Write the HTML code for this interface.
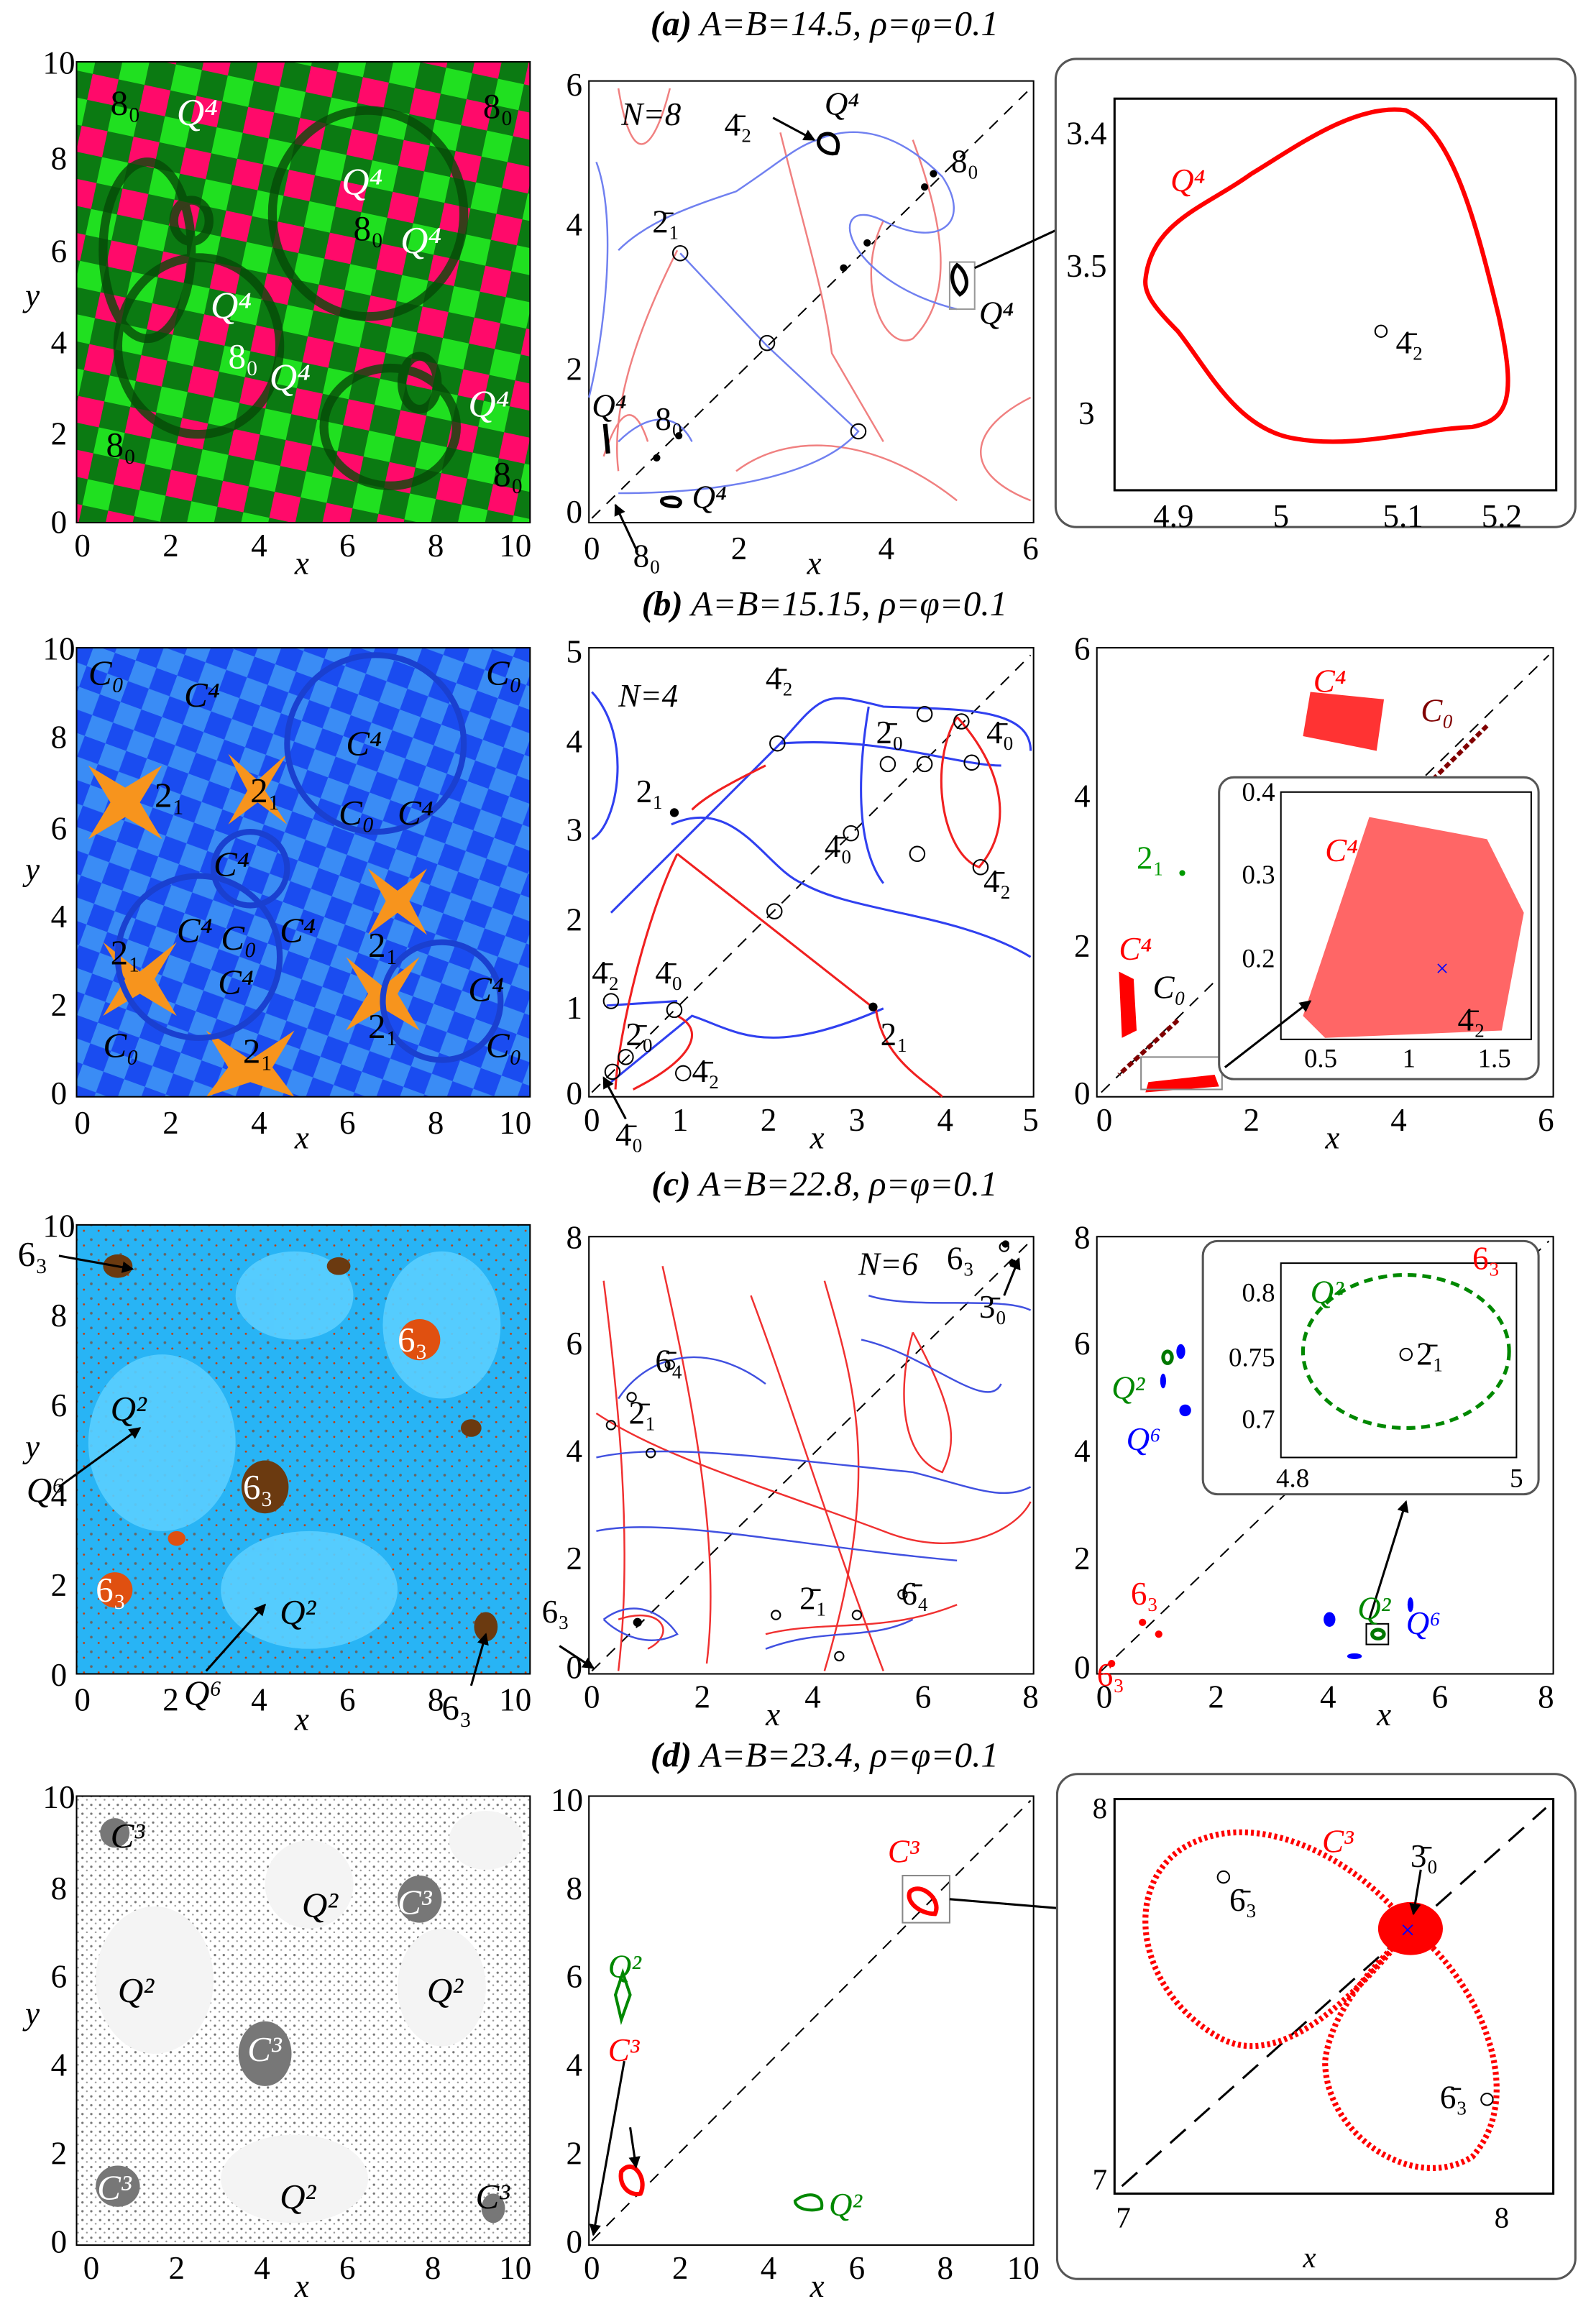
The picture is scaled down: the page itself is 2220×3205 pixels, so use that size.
<!DOCTYPE html>
<html><head><meta charset="utf-8"><style>
html,body{margin:0;padding:0;background:#fff}
svg{display:block}
text{font-family:"Liberation Serif",serif}
</style></head><body>
<svg width="2220" height="3205" viewBox="0 0 1084 1565" xmlns="http://www.w3.org/2000/svg">
<defs>
<pattern id="chkA" width="36" height="36" patternUnits="userSpaceOnUse" patternTransform="rotate(12)">
<rect width="36" height="36" fill="#0b7a12"/><rect width="18" height="18" fill="#ff0a6a"/><rect x="18" y="18" width="18" height="18" fill="#20e020"/>
</pattern>
<pattern id="chkB" width="30" height="30" patternUnits="userSpaceOnUse" patternTransform="rotate(20)">
<rect width="30" height="30" fill="#1a4cf0"/><rect width="15" height="15" fill="#3a8cf5"/><rect x="15" y="15" width="15" height="15" fill="#3a8cf5"/>
</pattern>
<pattern id="dotC" width="10" height="10" patternUnits="userSpaceOnUse">
<rect width="10" height="10" fill="#28b4f5"/><circle cx="2" cy="2" r="0.9" fill="#666"/><circle cx="7" cy="6" r="0.7" fill="#c04010"/>
</pattern>
<pattern id="dotD" width="6" height="6" patternUnits="userSpaceOnUse">
<rect width="6" height="6" fill="#fff"/><circle cx="2" cy="2" r="0.8" fill="#777"/><circle cx="5" cy="4.5" r="0.6" fill="#999"/>
</pattern>
<marker id="ar" markerWidth="8" markerHeight="8" refX="7" refY="4" orient="auto" markerUnits="userSpaceOnUse"><path d="M0,0L8,4L0,8z" fill="#000"/></marker>
</defs>

<!-- titles -->
<g font-size="24" font-style="italic" text-anchor="middle">
<text x="560" y="24"><tspan font-weight="bold">(a)</tspan>  A=B=14.5, ρ=φ=0.1</text>
<text x="560" y="418"><tspan font-weight="bold">(b)</tspan>  A=B=15.15, ρ=φ=0.1</text>
<text x="560" y="812"><tspan font-weight="bold">(c)</tspan>  A=B=22.8, ρ=φ=0.1</text>
<text x="560" y="1200"><tspan font-weight="bold">(d)</tspan>  A=B=23.4, ρ=φ=0.1</text>
</g>

<!-- ===== Row a ===== -->
<rect x="52" y="42" width="308" height="313" fill="url(#chkA)"/>
<g fill="none" stroke="#064a08" stroke-width="6" opacity="0.8">
<ellipse cx="100" cy="170" rx="30" ry="60"/><ellipse cx="250" cy="145" rx="65" ry="70"/>
<ellipse cx="135" cy="235" rx="55" ry="60"/><ellipse cx="265" cy="290" rx="45" ry="40"/>
<ellipse cx="130" cy="150" rx="12" ry="14"/><ellipse cx="285" cy="260" rx="12" ry="18"/>
</g>
<rect x="52" y="42" width="308" height="313" fill="none" stroke="#000"/>
<g font-size="26" font-style="italic" fill="#fff"><text x="120" y="85">Q⁴</text><text x="232" y="132">Q⁴</text><text x="272" y="172">Q⁴</text><text x="143" y="216">Q⁴</text><text x="183" y="265">Q⁴</text><text x="318" y="283">Q⁴</text></g>
<g font-size="24"><text x="75" y="78">8₀</text><text x="328" y="80">8₀</text><text x="240" y="163">8₀</text><text x="155" y="250" fill="#fff">8₀</text><text x="72" y="310">8₀</text><text x="335" y="330">8₀</text></g>

<!-- middle a -->
<rect x="400" y="55" width="302" height="300" fill="none" stroke="#000"/>
<line x1="402" y1="352" x2="700" y2="60" stroke="#000" stroke-dasharray="8,6"/>
<g fill="none" stroke="#f08080" stroke-width="1.2">
<path d="M420,60 C430,120 445,100 455,60"/><path d="M530,90 C550,170 560,200 565,240 L600,300"/>
<path d="M620,95 C640,150 650,200 620,230 C600,240 580,190 600,150"/>
<path d="M700,270 C660,290 650,320 700,340"/><path d="M500,320 C540,290 600,300 650,340"/>
<path d="M410,310 C420,280 430,270 440,300"/><path d="M460,170 C430,230 415,280 420,320"/>
</g>
<g fill="none" stroke="#7080f0" stroke-width="1.2">
<path d="M405,110 C420,150 410,230 400,270"/><path d="M420,170 C440,150 470,140 500,130 C530,110 540,100 555,95 C590,80 620,100 640,120 C660,150 640,170 600,150 C560,130 570,190 650,210"/>
<path d="M462,172 L521,235 L583,293 C560,320 500,335 420,335"/><path d="M420,300 C440,280 460,280 470,300"/>
</g>
<g fill="none" stroke="#000"><circle cx="462" cy="172" r="5"/><circle cx="521" cy="233" r="5"/><circle cx="583" cy="293" r="5"/>
<path d="M558,92 C565,88 572,95 568,104 C560,106 552,98 558,92z" stroke-width="2.5"/><path d="M650,180 C656,184 660,195 652,200 C646,194 645,185 650,180z" stroke-width="2.5"/>
<path d="M411,288 L413,308" stroke-width="3"/><path d="M450,339 C458,336 466,340 460,344 C452,344 448,342 450,339z" stroke-width="2.5"/>
<rect x="645" y="178" width="17" height="32" stroke="#999"/></g>
<g fill="#000"><circle cx="634" cy="118" r="2.5"/><circle cx="628" cy="127" r="2.5"/><circle cx="589" cy="165" r="2.5"/><circle cx="573" cy="182" r="2.5"/><circle cx="461" cy="296" r="2.5"/><circle cx="446" cy="311" r="2.5"/></g>
<line x1="525" y1="80" x2="553" y2="95" stroke="#000" stroke-width="1.5" marker-end="url(#ar)"/>
<line x1="433" y1="375" x2="418" y2="343" stroke="#000" stroke-width="1.5" marker-end="url(#ar)"/>
<line x1="662" y1="182" x2="746" y2="143" stroke="#000" stroke-width="1.5" marker-end="url(#ar)"/>
<g font-size="22" font-style="italic"><text x="422" y="85">N=8</text><text x="560" y="78">Q⁴</text><text x="665" y="220">Q⁴</text><text x="402" y="283">Q⁴</text><text x="470" y="345">Q⁴</text></g>
<g font-size="22"><text x="492" y="92">4̄₂</text><text x="443" y="158">2̄₁</text><text x="646" y="117">8₀</text><text x="445" y="292">8₀</text><text x="430" y="385">8₀</text></g>

<!-- right a -->
<rect x="717" y="40" width="353" height="318" rx="14" fill="#fff" stroke="#555" stroke-width="1.5"/>
<rect x="757" y="67" width="300" height="266" fill="none" stroke="#000" stroke-width="1.5"/>
<path d="M778,190 C782,150 820,140 850,118 C880,100 920,70 955,75 C985,90 1000,140 1018,215 C1030,270 1025,285 1000,290 C960,292 920,305 880,298 C840,292 820,250 800,225 C785,210 777,200 778,190z" fill="none" stroke="#f00" stroke-width="3"/>
<circle cx="938" cy="225" r="4" fill="none" stroke="#000"/>
<text x="795" y="130" font-size="22" font-style="italic" fill="#f00">Q⁴</text>
<text x="948" y="240" font-size="22">4̄₂</text>

<!-- ===== Row b ===== -->
<rect x="52" y="440" width="308" height="305" fill="url(#chkB)"/>
<g fill="#f7941d"><path d="M60,520 L85,535 L110,520 L95,545 L110,570 L85,555 L60,570 L75,545z"/><path d="M155,512 L175,530 L195,512 L180,537 L195,560 L175,545 L155,560 L168,537z"/><path d="M70,640 L95,660 L120,640 L105,665 L120,690 L95,675 L70,690 L85,665z"/><path d="M235,650 L260,670 L285,650 L270,675 L285,700 L260,685 L235,700 L250,675z"/><path d="M140,700 L170,720 L200,700 L185,725 L200,745 L170,735 L140,745 L155,725z"/><path d="M250,590 L270,605 L290,590 L278,612 L290,635 L270,620 L250,635 L262,612z"/></g>
<g fill="none" stroke="#1a40d0" stroke-width="4"><circle cx="170" cy="590" r="25"/><circle cx="255" cy="505" r="60"/><circle cx="135" cy="650" r="55"/><circle cx="300" cy="680" r="40"/></g>
<rect x="52" y="440" width="308" height="305" fill="none" stroke="#000"/>
<g font-size="24" font-style="italic"><text x="60" y="465">C₀</text><text x="330" y="465">C₀</text><text x="125" y="480">C⁴</text><text x="235" y="513">C⁴</text><text x="230" y="560">C₀</text><text x="270" y="560">C⁴</text><text x="145" y="595">C⁴</text><text x="120" y="640">C⁴</text><text x="150" y="645">C₀</text><text x="190" y="640">C⁴</text><text x="148" y="675">C⁴</text><text x="318" y="680">C⁴</text><text x="70" y="718">C₀</text><text x="330" y="718">C₀</text></g>
<g font-size="24"><text x="105" y="548">2₁</text><text x="170" y="545">2₁</text><text x="75" y="655">2₁</text><text x="250" y="650">2₁</text><text x="250" y="705">2₁</text><text x="165" y="722">2₁</text></g>

<rect x="400" y="440" width="302" height="305" fill="none" stroke="#000"/>
<line x1="402" y1="742" x2="700" y2="445" stroke="#000" stroke-dasharray="8,6"/>
<g fill="none" stroke="#3040f0" stroke-width="1.5"><path d="M402,470 C430,500 420,560 402,570"/><path d="M415,620 L530,505 C560,470 560,470 600,480 C650,482 700,480 700,510"/><path d="M456,560 C500,540 520,590 545,600 C580,620 650,620 700,650 "/><path d="M530,505 C600,500 650,520 680,520"/><path d="M590,480 C580,540 585,580 600,600"/><path d="M415,735 L470,690 C500,700 520,720 600,685"/><path d="M412,683 L460,680"/></g>
<g fill="none" stroke="#f02020" stroke-width="1.5"><path d="M460,580 L595,686 C600,720 630,735 640,745"/><path d="M460,580 C440,620 420,700 418,740"/><path d="M650,487 C680,520 690,560 665,589 C640,580 630,520 650,487"/><path d="M470,550 C480,540 500,530 520,520"/><path d="M430,740 C470,720 480,700 460,690"/></g>
<g fill="none" stroke="#000"><circle cx="528" cy="505" r="5"/><circle cx="628" cy="485" r="5"/><circle cx="653" cy="490" r="5"/><circle cx="603" cy="519" r="5"/><circle cx="628" cy="519" r="5"/><circle cx="660" cy="518" r="5"/><circle cx="578" cy="566" r="5"/><circle cx="623" cy="580" r="5"/><circle cx="666" cy="589" r="5"/><circle cx="526" cy="619" r="5"/><circle cx="415" cy="680" r="5"/><circle cx="458" cy="686" r="5"/><circle cx="425" cy="718" r="5"/><circle cx="464" cy="729" r="5"/><circle cx="416" cy="728" r="5"/></g>
<g fill="#000"><circle cx="458" cy="552" r="3"/><circle cx="593" cy="684" r="3"/></g>
<line x1="425" y1="760" x2="410" y2="732" stroke="#000" stroke-width="1.5" marker-end="url(#ar)"/>
<g font-size="22"><text x="420" y="480" font-style="italic">N=4</text><text x="520" y="468">4̄₂</text><text x="595" y="505">2̄₀</text><text x="670" y="505">4̄₀</text><text x="560" y="582">4̄₀</text><text x="668" y="606">4̄₂</text><text x="432" y="545">2₁</text><text x="598" y="710">2₁</text><text x="402" y="668">4̄₂</text><text x="445" y="668">4̄₀</text><text x="425" y="710">2̄₀</text><text x="470" y="735">4̄₂</text><text x="418" y="778">4̄₀</text></g>

<rect x="745" y="440" width="310" height="305" fill="none" stroke="#000"/>
<line x1="748" y1="742" x2="1052" y2="445" stroke="#000" stroke-dasharray="8,6"/>
<path d="M1010,493 L890,612" stroke="#800000" stroke-width="3" stroke-dasharray="4,2"/>
<path d="M800,693 L760,730" stroke="#800000" stroke-width="3" stroke-dasharray="4,2"/>
<path d="M890,470 L940,475 L935,510 L885,500z" fill="#f00" opacity="0.8"/>
<path d="M760,660 L770,665 L772,700 L762,705z" fill="#f00"/>
<path d="M780,735 L825,730 L828,738 L778,742z" fill="#f00"/>
<circle cx="803" cy="593" r="2" fill="#090"/>
<rect x="775" y="718" width="55" height="22" fill="none" stroke="#888"/>
<rect x="828" y="528" width="217" height="205" rx="10" fill="#fff" stroke="#555" stroke-width="1.5"/>
<rect x="870" y="538" width="170" height="168" fill="none" stroke="#000"/>
<path d="M885,690 L930,555 L1010,570 L1035,620 L1020,700 L900,705z" fill="#f33" opacity="0.75"/>
<text x="975" y="663" fill="#00f" font-size="16">×</text>
<line x1="832" y1="725" x2="890" y2="680" stroke="#000" stroke-width="1.5" marker-end="url(#ar)"/>
<g font-size="22"><text x="892" y="470" fill="#f00" font-style="italic">C⁴</text><text x="965" y="490" fill="#800000" font-style="italic">C₀</text><text x="772" y="590" fill="#090">2₁</text><text x="760" y="652" fill="#f00" font-style="italic">C⁴</text><text x="783" y="678" font-style="italic">C₀</text><text x="900" y="585" fill="#f00" font-style="italic">C⁴</text><text x="990" y="700">4̄₂</text></g>
<g font-size="18"><text x="866" y="544" text-anchor="end">0.4</text><text x="866" y="600" text-anchor="end">0.3</text><text x="866" y="657" text-anchor="end">0.2</text><text x="897" y="725" text-anchor="middle">0.5</text><text x="957" y="725" text-anchor="middle">1</text><text x="1015" y="725" text-anchor="middle">1.5</text></g>

<!-- ===== Row c ===== -->
<rect x="52" y="832" width="308" height="305" fill="url(#dotC)"/>
<g fill="#5aceff" opacity="0.9"><ellipse cx="110" cy="980" rx="50" ry="60"/><ellipse cx="210" cy="1080" rx="60" ry="40"/><ellipse cx="300" cy="900" rx="40" ry="50"/><ellipse cx="200" cy="880" rx="40" ry="30"/></g>
<g fill="#6b3a10"><ellipse cx="180" cy="1010" rx="16" ry="18"/><ellipse cx="80" cy="860" rx="10" ry="8"/><ellipse cx="330" cy="1105" rx="8" ry="10"/><ellipse cx="230" cy="860" rx="8" ry="6"/><ellipse cx="320" cy="970" rx="7" ry="6"/></g>
<g fill="#e05010"><ellipse cx="285" cy="910" rx="14" ry="14"/><ellipse cx="78" cy="1080" rx="12" ry="12"/><ellipse cx="120" cy="1045" rx="6" ry="5"/></g>
<rect x="52" y="832" width="308" height="305" fill="none" stroke="#000"/>
<g font-size="24" font-style="italic"><text x="75" y="965">Q²</text><text x="190" y="1103">Q²</text><text x="18" y="1020">Q⁶</text><text x="125" y="1158">Q⁶</text></g>
<g font-size="24"><text x="12" y="860">6₃</text><text x="270" y="918" fill="#fff">6₃</text><text x="165" y="1018" fill="#fff">6₃</text><text x="65" y="1088" fill="#fff">6₃</text><text x="300" y="1168">6₃</text></g>
<g stroke="#000" stroke-width="1.5"><line x1="40" y1="853" x2="90" y2="862" marker-end="url(#ar)"/><line x1="40" y1="1010" x2="95" y2="970" marker-end="url(#ar)"/><line x1="140" y1="1135" x2="180" y2="1090" marker-end="url(#ar)"/><line x1="320" y1="1145" x2="330" y2="1110" marker-end="url(#ar)"/></g>

<rect x="400" y="840" width="302" height="297" fill="none" stroke="#000"/>
<line x1="402" y1="1135" x2="700" y2="843" stroke="#000" stroke-dasharray="8,6"/>
<g fill="none" stroke="#f03030" stroke-width="1.2"><path d="M410,870 C420,950 430,1050 420,1135"/><path d="M450,860 C470,950 490,1050 480,1130"/><path d="M510,880 C540,960 560,1030 600,1135"/><path d="M560,870 C580,940 600,1000 560,1135"/><path d="M620,905 C650,960 650,980 640,1000 C610,990 610,940 620,905"/><path d="M405,960 C450,990 520,1010 600,1040 C650,1060 690,1040 700,1020"/><path d="M420,1100 C450,1090 460,1110 440,1120"/><path d="M520,1110 C560,1100 600,1110 650,1090"/></g>
<g fill="none" stroke="#4050e0" stroke-width="1.2"><path d="M405,990 C450,980 520,990 620,1000 C660,1010 680,1020 700,1010"/><path d="M405,1040 C450,1030 540,1050 650,1060 C680,1060 700,1050"/><path d="M420,950 C440,920 480,910 520,940"/><path d="M590,880 C620,890 680,880 700,890"/><path d="M585,910 C630,920 670,960 680,940"/><path d="M410,1100 C430,1085 450,1095 460,1110 C440,1120 420,1110 410,1100"/><path d="M520,1120 C560,1105 590,1115 620,1100"/></g>
<g fill="none" stroke="#000"><circle cx="455" cy="927" r="3"/><circle cx="415" cy="968" r="3"/><circle cx="429" cy="949" r="3"/><circle cx="442" cy="987" r="3"/><circle cx="527" cy="1097" r="3"/><circle cx="582" cy="1097" r="3"/><circle cx="613" cy="1083" r="3"/><circle cx="570" cy="1125" r="3"/><circle cx="682" cy="847" r="3"/></g>
<g fill="#000"><circle cx="433" cy="1102" r="3"/><circle cx="683" cy="845" r="2.5"/><circle cx="688" cy="858" r="2.5"/></g>
<g stroke="#000" stroke-width="1.5"><line x1="380" y1="1118" x2="403" y2="1133" marker-end="url(#ar)"/><line x1="682" y1="880" x2="692" y2="855" marker-end="url(#ar)"/></g>
<g font-size="22"><text x="583" y="866" font-style="italic">N=6</text><text x="643" y="862">6₃</text><text x="665" y="895">3̄₀</text><text x="445" y="932">6̄₄</text><text x="427" y="967">2̄₁</text><text x="368" y="1102">6₃</text><text x="543" y="1093">2̄₁</text><text x="612" y="1090">6̄₄</text></g>

<rect x="745" y="840" width="310" height="297" fill="none" stroke="#000"/>
<line x1="748" y1="1135" x2="1052" y2="843" stroke="#000" stroke-dasharray="8,6"/>
<g fill="#00f"><ellipse cx="802" cy="918" rx="3" ry="5"/><ellipse cx="790" cy="938" rx="2" ry="5"/><ellipse cx="805" cy="958" rx="4" ry="4"/><ellipse cx="903" cy="1100" rx="4" ry="5"/><ellipse cx="920" cy="1125" rx="5" ry="2"/><ellipse cx="958" cy="1090" rx="2" ry="5"/></g>
<g fill="none" stroke="#070" stroke-width="2.5"><ellipse cx="793" cy="922" rx="3" ry="4"/><ellipse cx="936" cy="1110" rx="4" ry="3"/></g>
<rect x="928" y="1103" width="15" height="14" fill="none" stroke="#000"/>
<g fill="#f00"><circle cx="1030" cy="845" r="2.5"/><circle cx="1043" cy="855" r="2.5"/><circle cx="776" cy="1102" r="2.5"/><circle cx="787" cy="1110" r="2.5"/><circle cx="755" cy="1130" r="2.5"/></g>
<rect x="817" y="843" width="228" height="172" rx="10" fill="#fff" stroke="#555" stroke-width="1.5"/>
<rect x="870" y="858" width="160" height="132" fill="none" stroke="#000"/>
<ellipse cx="955" cy="918" rx="70" ry="52" fill="none" stroke="#080" stroke-width="2.5" stroke-dasharray="6,4"/>
<circle cx="955" cy="920" r="4" fill="none" stroke="#000"/>
<line x1="930" y1="1100" x2="955" y2="1020" stroke="#000" stroke-width="1.5" marker-end="url(#ar)"/>
<g font-size="22"><text x="890" y="885" fill="#080" font-style="italic">Q²</text><text x="962" y="927">2̄₁</text><text x="755" y="950" fill="#080" font-style="italic">Q²</text><text x="765" y="985" fill="#00f" font-style="italic">Q⁶</text><text x="768" y="1090" fill="#f00">6₃</text><text x="745" y="1145" fill="#f00">6₃</text><text x="1000" y="862" fill="#f00">6₃</text><text x="922" y="1100" fill="#080" font-style="italic">Q²</text><text x="955" y="1110" fill="#00f" font-style="italic">Q⁶</text></g>
<g font-size="18"><text x="866" y="884" text-anchor="end">0.8</text><text x="866" y="928" text-anchor="end">0.75</text><text x="866" y="970" text-anchor="end">0.7</text><text x="878" y="1010" text-anchor="middle">4.8</text><text x="1030" y="1010" text-anchor="middle">5</text></g>

<!-- ===== Row d ===== -->
<rect x="52" y="1220" width="308" height="305" fill="url(#dotD)"/>
<g fill="#f4f4f4"><ellipse cx="105" cy="1345" rx="40" ry="50"/><ellipse cx="200" cy="1480" rx="50" ry="30"/><ellipse cx="300" cy="1350" rx="30" ry="40"/><ellipse cx="210" cy="1280" rx="30" ry="30"/><ellipse cx="330" cy="1250" rx="25" ry="20"/></g>
<g fill="#777"><ellipse cx="180" cy="1395" rx="18" ry="22"/><ellipse cx="285" cy="1290" rx="15" ry="16"/><ellipse cx="80" cy="1485" rx="15" ry="14"/><ellipse cx="78" cy="1245" rx="10" ry="10"/><ellipse cx="335" cy="1500" rx="8" ry="10"/></g>
<rect x="52" y="1220" width="308" height="305" fill="none" stroke="#000"/>
<g font-size="24" font-style="italic"><text x="205" y="1302">Q²</text><text x="290" y="1360">Q²</text><text x="80" y="1360">Q²</text><text x="190" y="1500">Q²</text><text x="75" y="1255" fill="#000">C³</text><text x="270" y="1300" fill="#fff">C³</text><text x="168" y="1400" fill="#fff">C³</text><text x="66" y="1494" fill="#fff">C³</text><text x="323" y="1500">C³</text></g>

<rect x="400" y="1220" width="302" height="305" fill="none" stroke="#000"/>
<line x1="402" y1="1522" x2="700" y2="1223" stroke="#000" stroke-dasharray="8,6"/>
<rect x="613" y="1274" width="32" height="32" fill="none" stroke="#888"/>
<path d="M618,1285 C625,1278 640,1290 635,1300 C625,1300 615,1292 618,1285z" fill="none" stroke="#f00" stroke-width="3"/>
<path d="M422,1475 C430,1465 440,1480 435,1490 C428,1492 420,1485 422,1475z" fill="none" stroke="#f00" stroke-width="3"/>
<path d="M423,1340 L428,1355 L422,1372 L418,1355z" fill="none" stroke="#080" stroke-width="2"/>
<path d="M540,1495 C548,1488 560,1490 558,1500 C550,1503 540,1500 540,1495z" fill="none" stroke="#080" stroke-width="2"/>
<g stroke="#000" stroke-width="1.5"><line x1="424" y1="1400" x2="403" y2="1518" marker-end="url(#ar)"/><line x1="428" y1="1445" x2="432" y2="1472" marker-end="url(#ar)"/><line x1="645" y1="1290" x2="765" y2="1300" marker-end="url(#ar)"/></g>
<g font-size="22" font-style="italic"><text x="603" y="1265" fill="#f00">C³</text><text x="413" y="1343" fill="#080">Q²</text><text x="413" y="1400" fill="#f00">C³</text><text x="563" y="1505" fill="#080">Q²</text></g>

<rect x="718" y="1205" width="352" height="343" rx="14" fill="#fff" stroke="#555" stroke-width="1.5"/>
<rect x="757" y="1222" width="298" height="268" fill="none" stroke="#000" stroke-width="1.5"/>
<line x1="762" y1="1485" x2="1050" y2="1228" stroke="#000" stroke-width="1.5" stroke-dasharray="14,8"/>
<g fill="none" stroke="#f00" stroke-width="4" stroke-dasharray="2,2"><path d="M958,1310 C920,1260 860,1235 820,1248 C760,1265 765,1350 830,1385 C880,1410 940,1330 958,1310"/><path d="M958,1310 C1000,1340 1040,1420 1000,1465 C960,1490 900,1450 900,1400 C905,1360 940,1330 958,1310"/></g>
<ellipse cx="958" cy="1310" rx="22" ry="18" fill="#f00"/>
<text x="951" y="1317" fill="#00f" font-size="18">×</text>
<circle cx="831" cy="1275" r="4" fill="none" stroke="#000"/><circle cx="1010" cy="1426" r="4" fill="none" stroke="#000"/>
<line x1="965" y1="1270" x2="960" y2="1300" stroke="#000" stroke-width="1.5" marker-end="url(#ar)"/>
<g font-size="22"><text x="898" y="1258" fill="#f00" font-style="italic">C³</text><text x="958" y="1268">3̄₀</text><text x="835" y="1298">6̄₃</text><text x="978" y="1432">6̄₃</text></g>
<g font-size="20"><text x="752" y="1235" text-anchor="end">8</text><text x="752" y="1487" text-anchor="end">7</text><text x="763" y="1513" text-anchor="middle">7</text><text x="1020" y="1513" text-anchor="middle">8</text><text x="885" y="1540" font-style="italic">x</text></g>

<!-- axis tick labels -->
<g font-size="22" text-anchor="middle">
<text x="40" y="50">10</text><text x="40" y="115">8</text><text x="40" y="178">6</text><text x="40" y="240">4</text><text x="40" y="302">2</text><text x="40" y="362">0</text>
<text x="56" y="378">0</text><text x="116" y="378">2</text><text x="176" y="378">4</text><text x="236" y="378">6</text><text x="296" y="378">8</text><text x="350" y="378">10</text>
<text x="22" y="208" font-style="italic">y</text><text x="205" y="390" font-style="italic">x</text>
<text x="390" y="65">6</text><text x="390" y="160">4</text><text x="390" y="258">2</text><text x="390" y="355">0</text>
<text x="402" y="380">0</text><text x="502" y="380">2</text><text x="602" y="380">4</text><text x="700" y="380">6</text><text x="553" y="390" font-style="italic">x</text>
<text x="738" y="98">3.4</text><text x="738" y="188">3.5</text><text x="738" y="288">3</text>
<text x="797" y="358">4.9</text><text x="870" y="358">5</text><text x="953" y="358">5.1</text><text x="1020" y="358">5.2</text>

<text x="40" y="448">10</text><text x="40" y="508">8</text><text x="40" y="570">6</text><text x="40" y="630">4</text><text x="40" y="690">2</text><text x="40" y="750">0</text>
<text x="56" y="770">0</text><text x="116" y="770">2</text><text x="176" y="770">4</text><text x="236" y="770">6</text><text x="296" y="770">8</text><text x="350" y="770">10</text>
<text x="22" y="598" font-style="italic">y</text><text x="205" y="780" font-style="italic">x</text>
<text x="390" y="450">5</text><text x="390" y="511">4</text><text x="390" y="571">3</text><text x="390" y="632">2</text><text x="390" y="692">1</text><text x="390" y="750">0</text>
<text x="402" y="768">0</text><text x="462" y="768">1</text><text x="522" y="768">2</text><text x="582" y="768">3</text><text x="642" y="768">4</text><text x="700" y="768">5</text><text x="555" y="780" font-style="italic">x</text>
<text x="735" y="448">6</text><text x="735" y="548">4</text><text x="735" y="650">2</text><text x="735" y="750">0</text>
<text x="750" y="768">0</text><text x="850" y="768">2</text><text x="950" y="768">4</text><text x="1050" y="768">6</text><text x="905" y="780" font-style="italic">x</text>

<text x="40" y="840">10</text><text x="40" y="901">8</text><text x="40" y="962">6</text><text x="40" y="1023">4</text><text x="40" y="1084">2</text><text x="40" y="1145">0</text>
<text x="56" y="1162">0</text><text x="116" y="1162">2</text><text x="176" y="1162">4</text><text x="236" y="1162">6</text><text x="296" y="1162">8</text><text x="350" y="1162">10</text>
<text x="22" y="990" font-style="italic">y</text><text x="205" y="1175" font-style="italic">x</text>
<text x="390" y="848">8</text><text x="390" y="920">6</text><text x="390" y="993">4</text><text x="390" y="1066">2</text><text x="390" y="1140">0</text>
<text x="402" y="1160">0</text><text x="477" y="1160">2</text><text x="552" y="1160">4</text><text x="627" y="1160">6</text><text x="700" y="1160">8</text><text x="525" y="1172" font-style="italic">x</text>
<text x="735" y="848">8</text><text x="735" y="920">6</text><text x="735" y="993">4</text><text x="735" y="1066">2</text><text x="735" y="1140">0</text>
<text x="750" y="1160">0</text><text x="826" y="1160">2</text><text x="902" y="1160">4</text><text x="978" y="1160">6</text><text x="1050" y="1160">8</text><text x="940" y="1172" font-style="italic">x</text>

<text x="40" y="1228">10</text><text x="40" y="1290">8</text><text x="40" y="1350">6</text><text x="40" y="1410">4</text><text x="40" y="1470">2</text><text x="40" y="1530">0</text>
<text x="62" y="1548">0</text><text x="120" y="1548">2</text><text x="178" y="1548">4</text><text x="236" y="1548">6</text><text x="294" y="1548">8</text><text x="350" y="1548">10</text>
<text x="22" y="1375" font-style="italic">y</text><text x="205" y="1560" font-style="italic">x</text>
<text x="385" y="1230">10</text><text x="390" y="1290">8</text><text x="390" y="1350">6</text><text x="390" y="1410">4</text><text x="390" y="1470">2</text><text x="390" y="1530">0</text>
<text x="402" y="1548">0</text><text x="462" y="1548">2</text><text x="522" y="1548">4</text><text x="582" y="1548">6</text><text x="642" y="1548">8</text><text x="695" y="1548">10</text><text x="555" y="1560" font-style="italic">x</text>
</g>
</svg>
</body></html>
